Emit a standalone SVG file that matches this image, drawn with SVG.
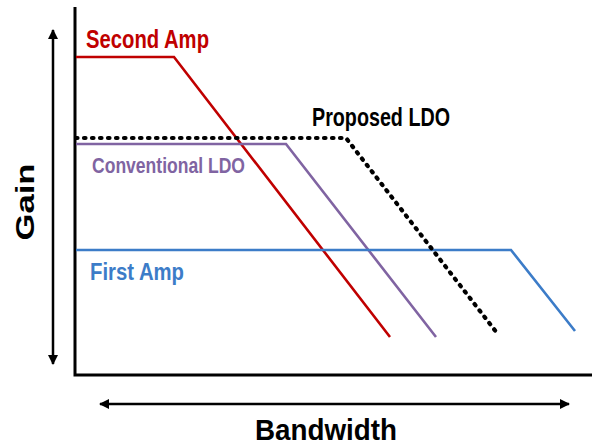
<svg xmlns="http://www.w3.org/2000/svg" width="592" height="446" viewBox="0 0 592 446">
<defs>
<marker id="ah" viewBox="0 0 10 10" refX="9" refY="5" markerWidth="4" markerHeight="4" orient="auto-start-reverse" markerUnits="strokeWidth">
<path d="M0,0 L10,5 L0,10 z" fill="#000"/>
</marker>
<style>
.axis{stroke:#000;stroke-width:3;fill:none}
.arr{stroke:#000;stroke-width:2.5;fill:none;marker-start:url(#ah);marker-end:url(#ah)}
.curve{fill:none;stroke-width:2.6;stroke-linejoin:miter}
.dotted{stroke:#000;stroke-width:4.2;stroke-dasharray:1.5 6.5;stroke-linecap:round}
.lbl{font-family:"Liberation Sans",Arial,sans-serif;font-weight:bold}
</style>
</defs>
<rect width="592" height="446" fill="#fff"/>
<g id="axes">
<path class="axis" d="M75,7 V375 H592"/>
<line class="arr" x1="53" y1="30" x2="53" y2="364"/>
<line class="arr" x1="100" y1="404" x2="569" y2="404"/>
<text class="lbl" x="326" y="440" font-size="30" text-anchor="middle" textLength="142" lengthAdjust="spacingAndGlyphs">Bandwidth</text>
<text class="lbl" transform="translate(34,202) rotate(-90)" font-size="26" text-anchor="middle" textLength="77" lengthAdjust="spacingAndGlyphs">Gain</text>
</g>
<g id="connectors">
<polyline id="second-amp-curve" class="curve" stroke="#C00000" points="76,57 174,57 390,337"/>
<polyline id="conventional-ldo-curve" class="curve" stroke="#8064A2" points="76,144 286,144 436,337"/>
<polyline id="first-amp-curve" class="curve" stroke="#3C7CC8" points="76,250 511,250 575,331"/>
<polyline id="proposed-ldo-curve" class="curve dotted" points="76,138 346,138 497,333"/>
</g>
<g id="second-amp">
<text class="lbl" x="86" y="48" font-size="25" fill="#C00000" textLength="123" lengthAdjust="spacingAndGlyphs">Second Amp</text>
</g>
<g id="conventional-ldo">
<text class="lbl" x="92" y="173" font-size="22" fill="#8064A2" textLength="153" lengthAdjust="spacingAndGlyphs">Conventional LDO</text>
</g>
<g id="proposed-ldo">
<text class="lbl" x="312" y="126" font-size="25" fill="#000" textLength="138" lengthAdjust="spacingAndGlyphs">Proposed LDO</text>
</g>
<g id="first-amp">
<text class="lbl" x="90" y="280" font-size="24" fill="#3C7CC8" textLength="94" lengthAdjust="spacingAndGlyphs">First Amp</text>
</g>
</svg>
